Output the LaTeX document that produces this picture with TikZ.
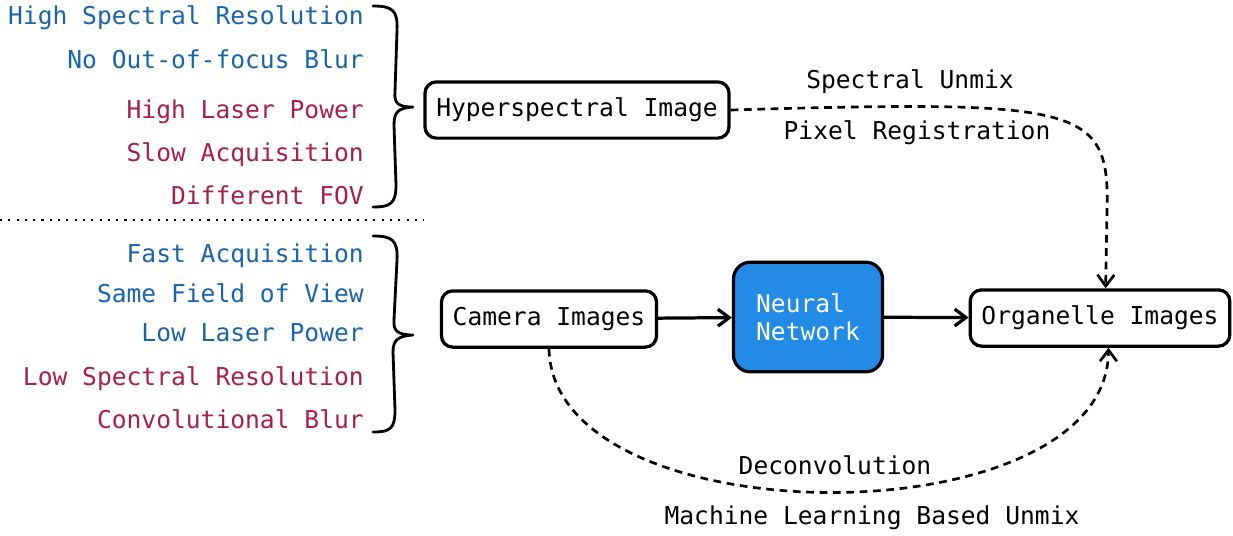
\documentclass[tikz,border=0pt]{standalone}
\usepackage{fontspec}
\setmonofont{DejaVu Sans Mono}
\usetikzlibrary{arrows.meta}
\definecolor{goodblue}{HTML}{1864AB}
\definecolor{badred}{HTML}{A61E4D}
\definecolor{nnblue}{HTML}{228BE6}

\begin{document}
\begin{tikzpicture}[x=0.025cm,y=-0.025cm,>={Straight Barb[length=8pt,width=12pt]},
every node/.style={font=\ttfamily\fontsize{17.5}{20}\selectfont},
box/.style={draw, line width=2.3pt, rounded corners=8pt, inner xsep=8pt, minimum height=40pt},
pro/.style={anchor=base east, inner sep=0pt, text=goodblue},
con/.style={anchor=base east, inner sep=0pt, text=badred},
brace/.style={line width=2pt, line cap=round, line join=round},
flow/.style={->, line width=2.3pt},
link/.style={->, line width=1.9pt, dash pattern=on 5.5pt off 4pt}]
\useasboundingbox (0,0) rectangle (1233,535);

% what each kind of image gives
\node[pro] (hsr)   at (364,24)  {High Spectral Resolution};
\node[pro] (noblur) at (364,68) {No Out-of-focus Blur};
\node[con] (hlp)   at (364,118) {High Laser Power};
\node[con] (slow)  at (364,161) {Slow Acquisition};
\node[con] (fov)   at (364,204) {Different FOV};

\node[pro] (fast)  at (364,262) {Fast Acquisition};
\node[pro] (same)  at (364,302) {Same Field of View};
\node[pro] (llp)   at (364,341) {Low Laser Power};
\node[con] (lsr)   at (364,385) {Low Spectral Resolution};
\node[con] (cblur) at (364,428) {Convolutional Blur};

% braces
\draw[brace] (373,6) .. controls (392,6) and (398,10) .. (397,30) -- (395,92)
  .. controls (394,103) and (398,107) .. (413,107)
  .. controls (398,108) and (394,112) .. (394,125) -- (396,185)
  .. controls (396,204) and (390,207) .. (373,207);
\draw[brace] (373,236) .. controls (392,236) and (398,240) .. (397,260) -- (394,320)
  .. controls (393,331) and (398,335) .. (413,335)
  .. controls (398,336) and (393,340) .. (393,352) -- (395,410)
  .. controls (395,429) and (390,432) .. (373,432);

\draw[line width=1.8pt, dash pattern=on 1.5pt off 4.4pt] (0,220) -- (424,220);

% images and network
\node[box] (hyper) at (577,110) {Hyperspectral Image};
\node[box] (cam) at (549,319) {Camera Images};
\node[box, fill=nnblue, text=white, align=left, minimum width=106pt, minimum height=78pt,
  rounded corners=12pt] (nn) at (808,317) {Neural\\Network};
\node[box] (org) at (1100,318) {Organelle Images};

\draw[flow] (cam) -- (nn);
\draw[flow] (nn) -- (org);

\draw[link] (hyper.east) .. controls (1080,100) and (1110,105) .. (1107,210) -- ([xshift=4pt]org.north);
\draw[link] (cam.south) .. controls (553,540) and (1108,540) .. ([xshift=6pt]org.south);

\node (unmix) at (910,82) {Spectral Unmix};
\node (reg) at (917,133) {Pixel Registration};
\node (deconv) at (835,465) {Deconvolution};
\node (mlunmix) at (872,518) {Machine Learning Based Unmix};
\end{tikzpicture}
\end{document}
